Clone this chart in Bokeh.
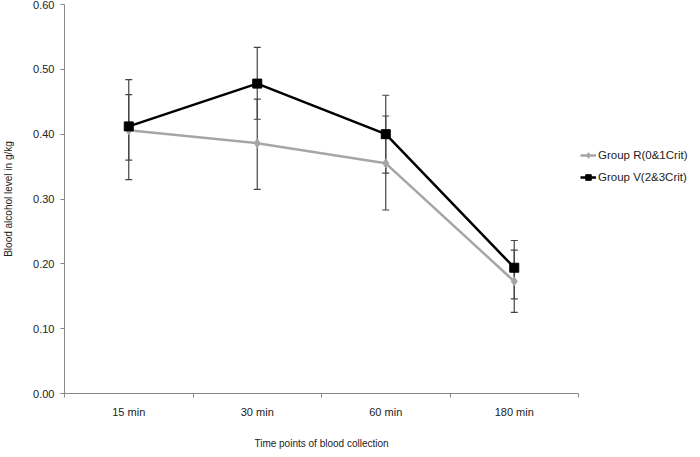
from bokeh.plotting import figure
from bokeh.models import (ColumnDataSource, FixedTicker, Whisker, TeeHead, Legend,
                          LegendItem, Range1d)
from bokeh.embed import file_html
from bokeh.resources import INLINE

categories = ["15 min", "30 min", "60 min", "180 min"]
group_r = [0.406, 0.386, 0.355, 0.173]
group_r_upper = [0.461, 0.454, 0.428, 0.221]
group_r_lower = [0.360, 0.315, 0.283, 0.125]
group_v = [0.412, 0.478, 0.400, 0.194]
group_v_upper = [0.484, 0.534, 0.460, 0.236]
group_v_lower = [0.330, 0.423, 0.340, 0.146]
y_ticks = [0.0, 0.1, 0.2, 0.3, 0.4, 0.5, 0.6]

xs = [i + 0.5 for i in range(len(categories))]
src_r = ColumnDataSource(dict(x=xs, y=group_r, up=group_r_upper, lo=group_r_lower))
src_v = ColumnDataSource(dict(x=xs, y=group_v, up=group_v_upper, lo=group_v_lower))

FONT = "Liberation Sans"
p = figure(frame_width=514, frame_height=389, output_backend="svg", toolbar_location=None,
           x_range=Range1d(0, len(categories)), y_range=Range1d(0, 0.6),
           min_border_left=60, min_border_top=4, min_border_bottom=48, min_border_right=100)
p.outline_line_color = None
p.xgrid.visible = False
p.ygrid.visible = False

# axes
p.xaxis.ticker = FixedTicker(ticks=xs, minor_ticks=list(range(len(categories) + 1)))
p.xaxis.major_label_overrides = {x: c for x, c in zip(xs, categories)}
p.xaxis.major_tick_out = 0
p.xaxis.major_tick_in = 0
p.xaxis.minor_tick_out = 4
p.xaxis.minor_tick_in = 0
p.xaxis.minor_tick_line_color = "#888888"
p.xaxis.axis_line_color = "#888888"
p.xaxis.major_label_standoff = 8
p.xaxis.axis_label = "Time points of blood collection"
p.xaxis.axis_label_standoff = 17

p.yaxis.ticker = FixedTicker(ticks=y_ticks)
p.yaxis.major_label_overrides = {t: f"{t:.2f}" for t in y_ticks}
p.yaxis.major_tick_out = 4
p.yaxis.major_tick_in = 0
p.yaxis.minor_tick_out = 0
p.yaxis.minor_tick_in = 0
p.yaxis.major_tick_line_color = "#888888"
p.yaxis.axis_line_color = "#888888"
p.yaxis.major_label_standoff = 6
p.yaxis.axis_label = "Blood alcohol level in g/kg"
p.yaxis.axis_label_standoff = 16

for ax in (p.xaxis[0], p.yaxis[0]):
    ax.major_label_text_font = FONT
    ax.major_label_text_font_size = "11px"
    ax.major_label_text_color = "#222222"
    ax.axis_label_text_font = FONT
    ax.axis_label_text_font_size = "10px"
    ax.axis_label_text_font_style = "normal"
    ax.axis_label_text_color = "#222222"

# error bars
for src in (src_r, src_v):
    w = Whisker(source=src, base="x", upper="up", lower="lo", dimension="height",
                line_color="#444444", line_width=1.2, level="underlay",
                upper_head=TeeHead(size=7, line_color="#444444", line_width=1.2),
                lower_head=TeeHead(size=7, line_color="#444444", line_width=1.2))
    p.add_layout(w)

lr = p.line("x", "y", source=src_r, line_color="#A6A6A6", line_width=2.5)
mr = p.scatter("x", "y", source=src_r, marker="diamond", size=9,
               fill_color="#A6A6A6", line_color="#A6A6A6")
lv = p.line("x", "y", source=src_v, line_color="#000000", line_width=2.5)
mv = p.scatter("x", "y", source=src_v, marker="square", size=9,
               fill_color="#000000", line_color="#000000")

legend = Legend(items=[LegendItem(label="Group R(0&1Crit)", renderers=[lr, mr]),
                       LegendItem(label="Group V(2&3Crit)", renderers=[lv, mv])],
                location=(2, 209))
legend.label_text_font = FONT
legend.label_text_font_size = "11.5px"
legend.label_text_color = "#222222"
legend.glyph_width = 16
legend.glyph_height = 14
legend.label_standoff = 2
legend.spacing = 8
legend.padding = 0
legend.margin = 0
legend.border_line_color = None
legend.background_fill_alpha = 0
legend.label_height = 14
p.add_layout(legend, "right")

open("out.html", "w").write(file_html(p, INLINE))
